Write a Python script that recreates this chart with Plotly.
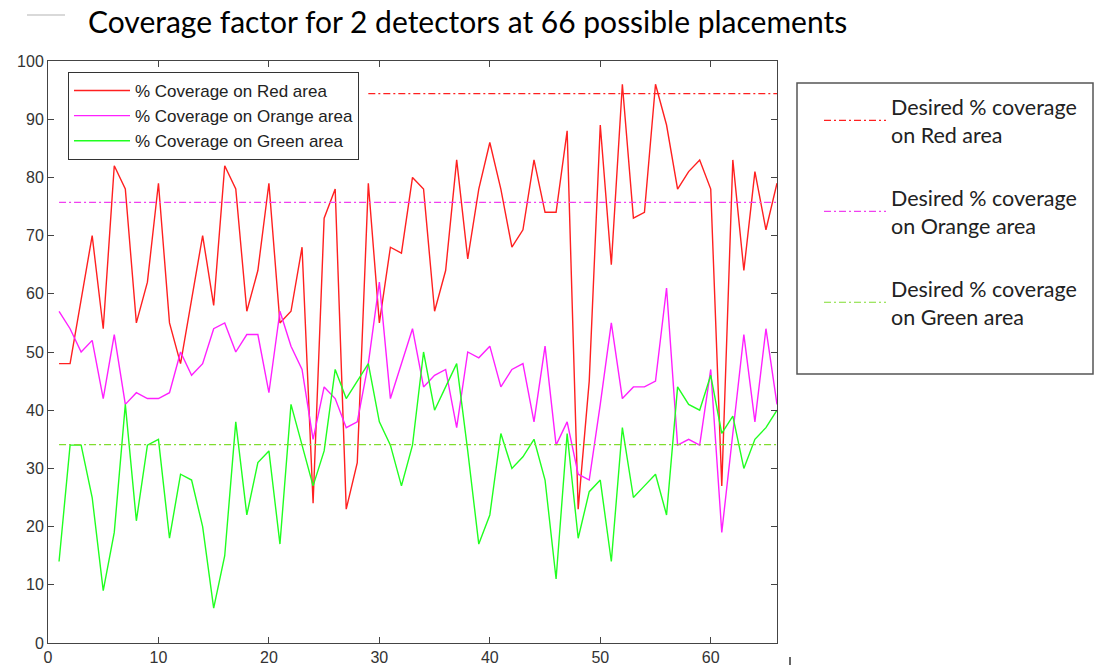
import plotly.graph_objects as go

positions = list(range(1, 67))

red_cov = [48, 48, 59, 70, 54, 82, 78, 55, 62, 79,
           55, 48, 59, 70, 58, 82, 78, 57, 64, 79,
           55, 57, 68, 24, 73, 78, 23, 31, 79, 55,
           68, 67, 80, 78, 57, 64, 83, 66, 78, 86,
           78, 68, 71, 83, 74, 74, 88, 23, 45, 89,
           65, 96, 73, 74, 96, 89, 78, 81, 83, 78,
           27, 83, 64, 81, 71, 79]

orange_cov = [57, 54, 50, 52, 42, 53, 41, 43, 42, 42,
              43, 50, 46, 48, 54, 55, 50, 53, 53, 43,
              57, 51, 47, 35, 44, 42, 37, 38, 48, 62,
              42, 48, 54, 44, 46, 47, 37, 50, 49, 51,
              44, 47, 48, 38, 51, 34, 38, 29, 28, 41,
              55, 42, 44, 44, 45, 61, 34, 35, 34, 47,
              19, 36, 53, 38, 54, 41]

green_cov = [14, 34, 34, 25, 9, 19, 41, 21, 34, 35,
             18, 29, 28, 20, 6, 15, 38, 22, 31, 33,
             17, 41, 34, 27, 33, 47, 42, 45, 48, 38,
             34, 27, 34, 50, 40, 44, 48, 33, 17, 22,
             36, 30, 32, 35, 28, 11, 36, 18, 26, 28,
             14, 37, 25, 27, 29, 22, 44, 41, 40, 46,
             36, 39, 30, 35, 37, 40]

desired_red = 94.4
desired_orange = 75.7
desired_green = 34.1
desired_red_span = [29, 66]
desired_orange_span = [1, 66]
desired_green_span = [1, 66]

series_names = ["% Coverage on Red area", "% Coverage on Orange area", "% Coverage on Green area"]
desired_names = ["Desired % coverage<br>on Red area",
                 "Desired % coverage<br>on Orange area",
                 "Desired % coverage<br>on Green area"]

xticks = [0, 10, 20, 30, 40, 50, 60]
yticks = [0, 10, 20, 30, 40, 50, 60, 70, 80, 90, 100]

fig = go.Figure()

main_colors = ["#ff2020", "#ff20ff", "#20ff20"]
for name, vals, col in zip(series_names, [red_cov, orange_cov, green_cov], main_colors):
    fig.add_trace(go.Scatter(x=positions, y=vals, mode="lines", name=name,
                             line=dict(color=col, width=1.4), legend="legend"))

dash_colors = ["#ff2020", "#f040f0", "#80dd30"]
spans = [desired_red_span, desired_orange_span, desired_green_span]
for i, (name, val, col, sp) in enumerate(zip(desired_names, [desired_red, desired_orange, desired_green],
                                              dash_colors, spans)):
    fig.add_trace(go.Scatter(x=sp, y=[val, val], mode="lines", name=name,
                             line=dict(color=col, width=1.2, dash="7px,3px,2px,3px"),
                             legend="legend2", legendgroup="d%d" % i))

L, R, T, B = 48, 317, 61, 22
W, H = 1094, 665
pw, ph = W - L - R, H - T - B

def px(xp):
    return (xp - L) / pw

def py(yp):
    return (H - B - yp) / ph

axis_common = dict(showline=True, linecolor="#444444", linewidth=1, mirror="ticks",
                   ticks="inside", ticklen=6, tickcolor="#444444", showgrid=False, zeroline=False,
                   automargin=False,
                   tickfont=dict(family="Arial, Liberation Sans, sans-serif", size=16, color="#333333"))

fig.update_layout(
    width=W, height=H,
    margin=dict(l=L, r=R, t=T, b=B, autoexpand=False),
    paper_bgcolor="white", plot_bgcolor="white",
    title=dict(text="Coverage factor for 2 detectors at 66 possible placements",
               font=dict(family="Lato, Open Sans, sans-serif", size=30, color="black"),
               x=88 / W, xanchor="left", xref="container",
               y=1 - 22 / H, yanchor="middle", yref="container"),
    xaxis=dict(range=[0, 66], tickvals=xticks, **axis_common),
    yaxis=dict(range=[0, 100], tickvals=yticks, **axis_common),
    legend=dict(x=px(68), y=py(72), xanchor="left", yanchor="top",
                bgcolor="white", bordercolor="#333333", borderwidth=1,
                font=dict(family="Arial, Liberation Sans, sans-serif", size=17, color="#222222"),
                itemwidth=56),
    legend2=dict(x=px(819), y=py(86), xanchor="left", yanchor="top",
                 bgcolor="rgba(0,0,0,0)", borderwidth=0,
                 font=dict(family="Lato, Open Sans, sans-serif", size=21.5, color="#222222"),
                 itemwidth=62, tracegroupgap=32, valign="middle"),
    shapes=[
        dict(type="rect", xref="paper", yref="paper", x0=px(797), x1=px(1093), y0=py(374), y1=py(83),
             line=dict(color="#555555", width=1.5), fillcolor="rgba(0,0,0,0)", layer="below"),
        dict(type="line", xref="paper", yref="paper", x0=px(27), x1=px(65), y0=py(15), y1=py(15),
             line=dict(color="#cccccc", width=1.5)),
        dict(type="line", xref="paper", yref="paper", x0=px(790), x1=px(790), y0=py(657), y1=py(665),
             line=dict(color="#333333", width=1.5)),
    ],
)

fig.write_html("out.html")
